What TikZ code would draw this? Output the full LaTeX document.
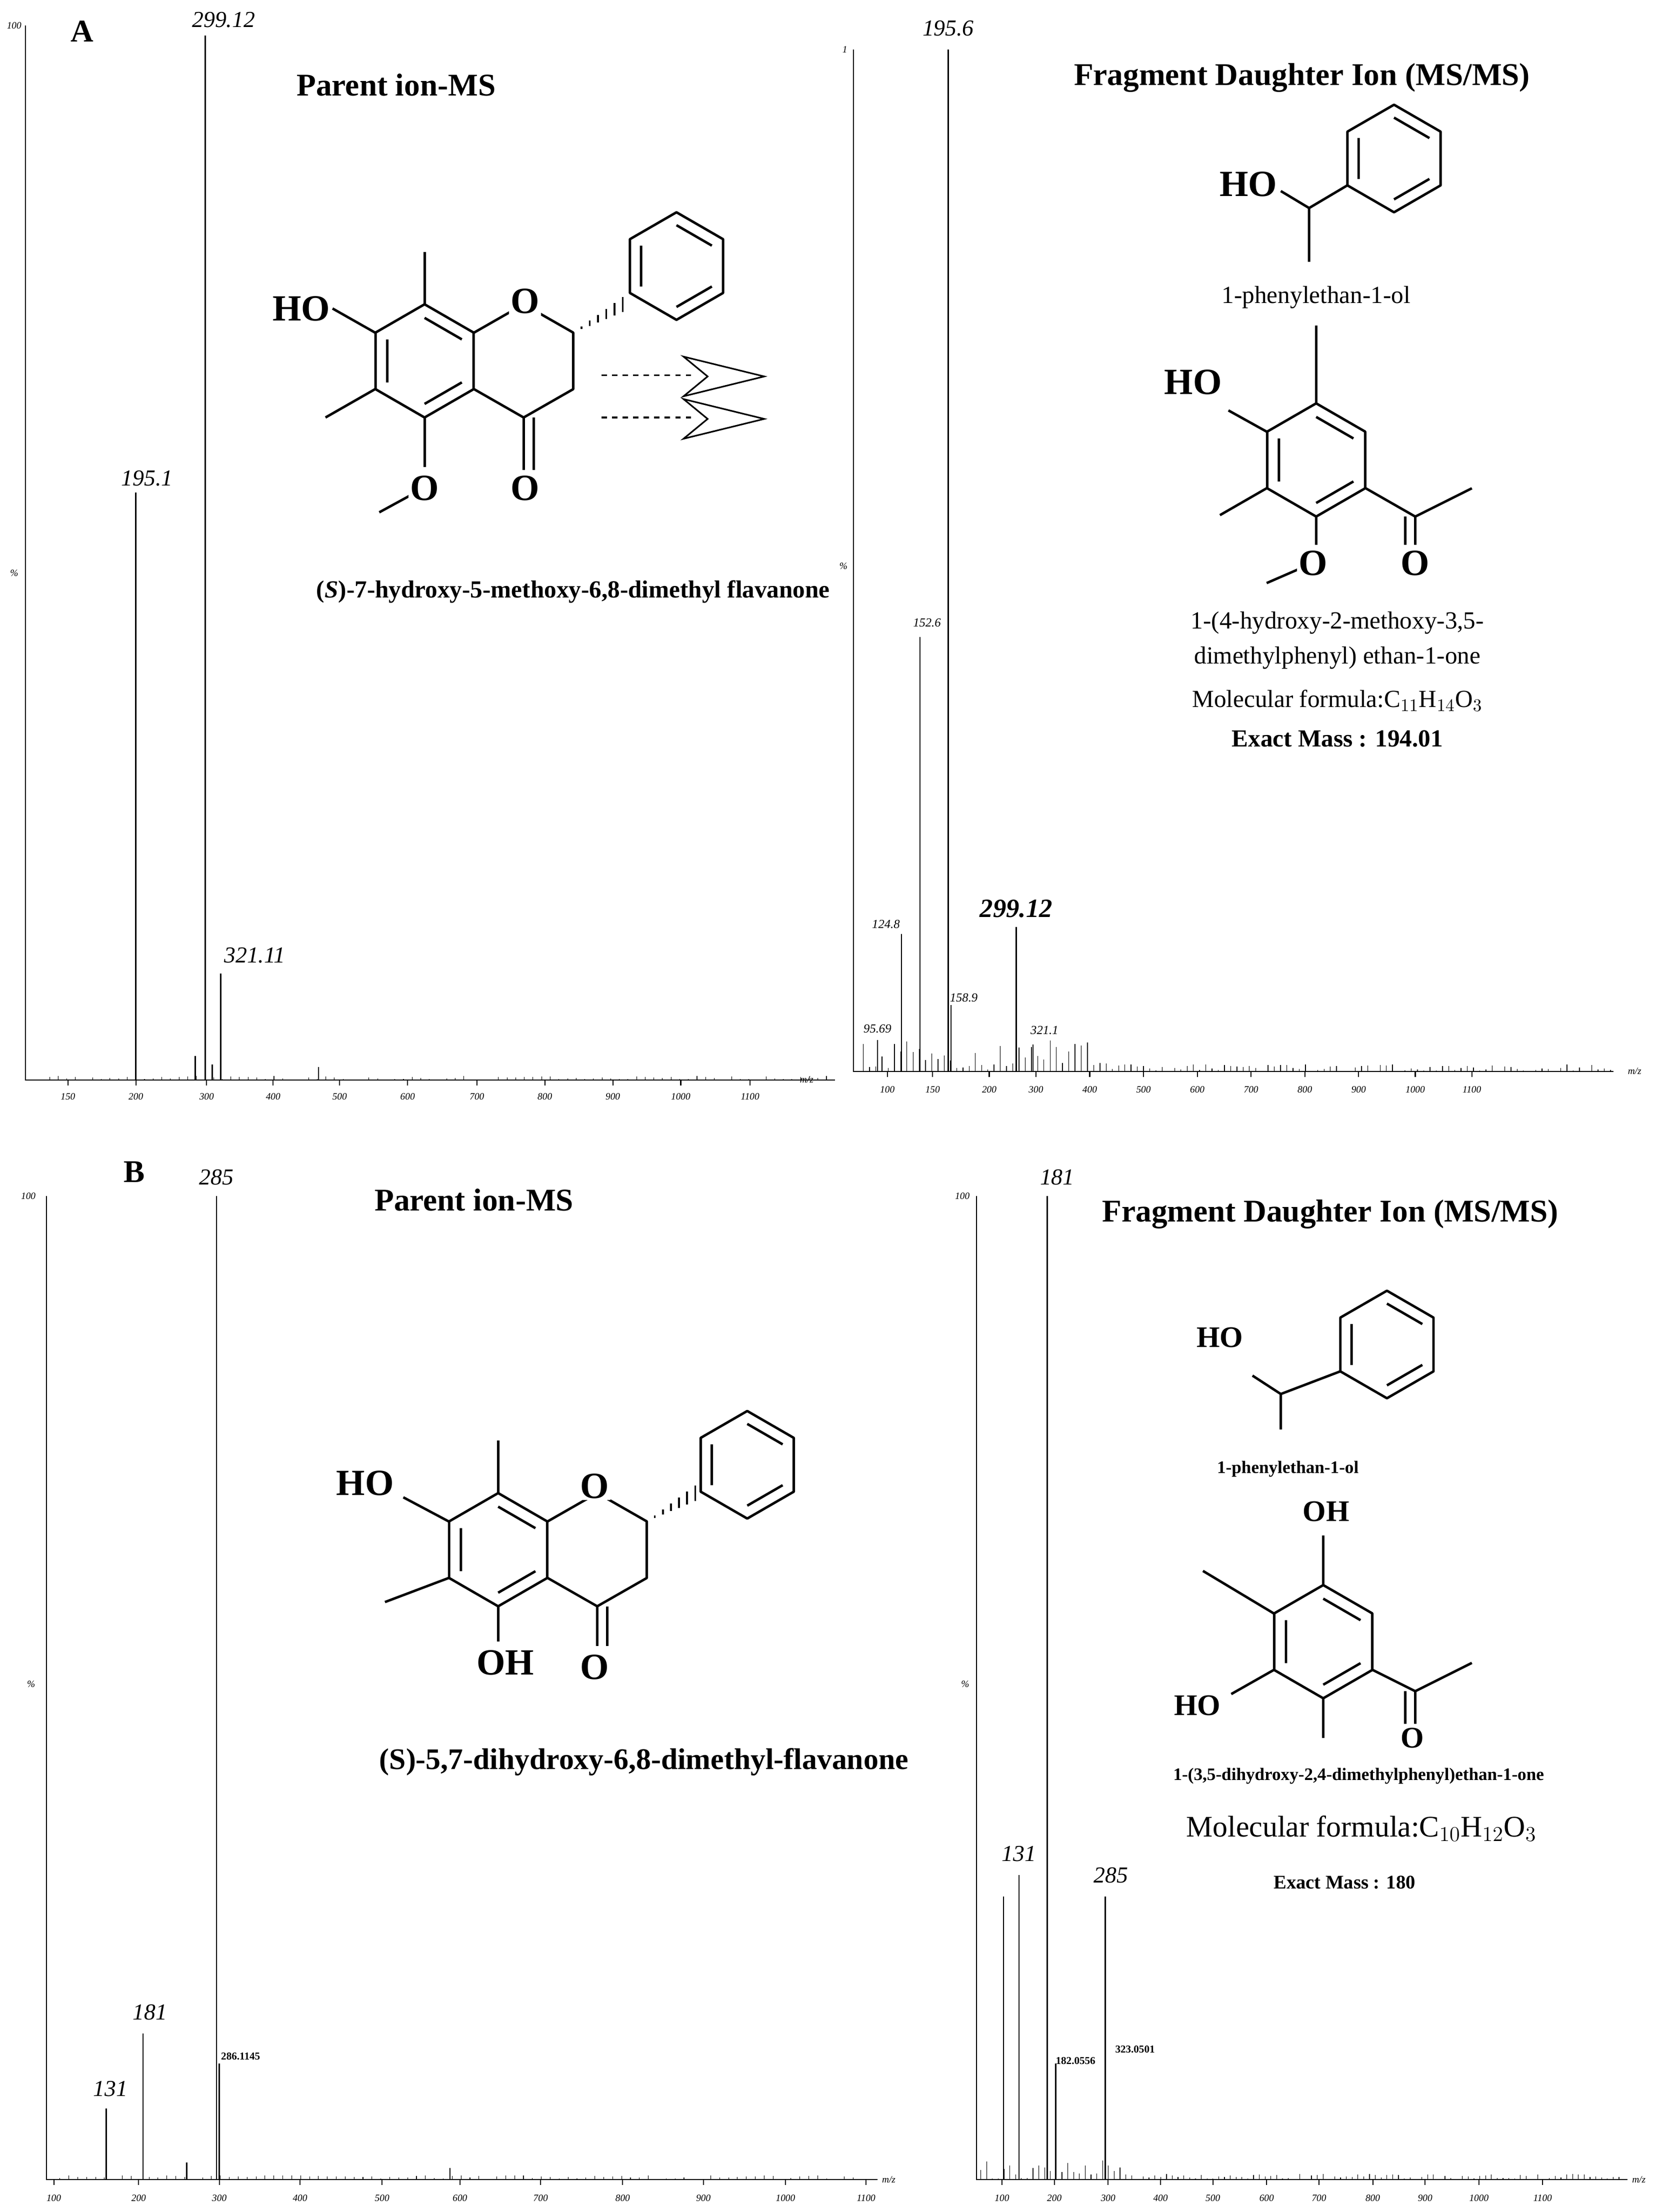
\documentclass[tikz,border=0pt]{standalone}
\usepackage{fontspec}
\setmainfont{Liberation Serif}
\usetikzlibrary{calc}
\newcommand{\aring}[3]{%
 \draw[bond,shift={(#1,#2)}] (90:#3)--(30:#3)--(-30:#3)--(-90:#3)--(210:#3)--(150:#3)--cycle;
 \draw[bond,shift={(#1,#2)}] (90:0.76*#3)--(30:0.76*#3) (-30:0.76*#3)--(-90:0.76*#3) (210:0.76*#3)--(150:0.76*#3);}
\begin{document}
\begin{tikzpicture}[x=0.0283cm,y=-0.0283cm,
 bond/.style={line width=1.4pt,line join=round},
 ax/.style={line width=0.6pt},
 pk/.style={line width=0.7pt},
 atom/.style={font=\fontsize{21}{21}\selectfont\bfseries,inner sep=1pt,fill=white},
 ttl/.style={font=\fontsize{18}{20}\selectfont\bfseries},
 plab/.style={font=\fontsize{13}{13}\selectfont\itshape},
 tick/.style={font=\fontsize{5.5}{6}\selectfont\itshape},
 txt/.style={font=\fontsize{14}{16}\selectfont}]
\useasboundingbox (0,0) rectangle (1170,1563);
\fill[white] (0,0) rectangle (1170,1563);
% ===== Panel A left spectrum
\draw[ax] (18,18)--(18,763)--(590,763);
\foreach \x/\l in {48/150,96/200,146/300,193/400,240/500,288/600,337/700,385/800,433/900,481/1000,530/1100}
 {\draw[ax] (\x,763)--(\x,767); \node[tick] at (\x,775) {\l};}
\node[tick] at (10,18) {100}; \node[tick] at (10,405) {\%};
\node[tick] at (570,763) {m/z};
\draw[pk] (96,763)--(96,348); \draw[pk] (145,763)--(145,25); \draw[pk] (156,763)--(156,688);
\draw[pk] (138,763)--(138,746); \draw[pk] (225,763)--(225,754); \draw[pk] (150,763)--(150,752);
\node[plab] (a1) at (104,338) {195.1};
\node[plab] (a2) at (158,14) {299.12};
\node[plab] (a3) at (180,675) {321.11};
\node[font=\fontsize{18}{18}\selectfont\bfseries] (A) at (58,22) {A};
\node[ttl] (pA) at (280,60) {Parent ion-MS};
% ===== Panel A right spectrum
\draw[ax] (603,35)--(603,757)--(1140,757);
\foreach \x/\l in {627/100,659/150,699/200,732/300,770/400,808/500,846/600,884/700,922/800,960/900,1000/1000,1040/1100}
 {\draw[ax] (\x,757)--(\x,761); \node[tick] at (\x,770) {\l};}
\node[tick] at (1155,757) {m/z}; \node[tick] at (597,35) {1};
\node[tick] at (596,400) {\%};
\pgfmathsetseed{7}
\foreach \i in {0,...,120}{\pgfmathsetmacro{\xx}{610+\i*4.4}\pgfmathsetmacro{\hh}{rnd*(\i<40?22:5)}
 \draw[line width=0.4pt] (\xx,757)--(\xx,757-\hh);}
\pgfmathsetseed{11}
\foreach \i in {0,...,90}{\pgfmathsetmacro{\xx}{35+\i*6.1}\pgfmathsetmacro{\hh}{rnd*3}
 \draw[line width=0.3pt] (\xx,763)--(\xx,763-\hh);}
\draw[pk] (670,757)--(670,35); \draw[pk] (650,757)--(650,450); \draw[pk] (637,757)--(637,660);
\draw[pk] (672,757)--(672,710); \draw[pk] (718,757)--(718,655); \draw[pk] (730,757)--(730,738);
\draw[pk] (620,757)--(620,735);
\node[plab] (b1) at (670,20) {195.6};
\node[tick,font=\fontsize{7}{7}\selectfont\itshape] at (655,440) {152.6};
\node[tick,font=\fontsize{7}{7}\selectfont\itshape] at (626,653) {124.8};
\node[tick,font=\fontsize{7}{7}\selectfont\itshape] at (681,705) {158.9};
\node[tick,font=\fontsize{7}{7}\selectfont\itshape] at (620,727) {95.69};
\node[tick,font=\fontsize{7}{7}\selectfont\itshape] at (738,728) {321.1};
\node[plab,font=\fontsize{15}{15}\selectfont\bfseries\itshape] (b2) at (718,642) {299.12};
\node[ttl] (fA) at (920,55) {Fragment Daughter Ion (MS/MS)};
% ===== Flavanone A
\aring{300}{255}{40}
\draw[bond] (335,235)--(370,215)--(405,235)--(405,275)--(370,295)--(335,275);
\draw[bond] (370,295)--(370,332) (377,295)--(377,332);
\draw[bond] (300,215)--(300,178);
\draw[bond] (265,235)--(235,218);
\draw[bond] (265,275)--(230,295);
\draw[bond] (300,295)--(300,330);
\draw[bond] (290,350)--(268,362);
\foreach \t in {0.15,0.3,0.45,0.6,0.75,0.9}{\draw[line width=1pt] ($(405,235)!\t!(444,213)+(0,-{\t*6})$)--($(405,235)!\t!(444,213)+(0,{\t*6})$);}
\aring{478}{188}{38}
\node[atom] (ho1) at (213,218) {HO};
\node[atom] (o1) at (371,213) {O};
\node[atom] (o2) at (371,345) {O};
\node[atom] (o3) at (300,345) {O};
\draw[dashed,line width=0.9pt] (425,265)--(490,265) (425,295)--(490,295);
\draw[line width=0.9pt] (483,252)--(540,266)--(483,280)--(500,266)--cycle;
\draw[line width=0.9pt] (483,282)--(540,296)--(483,310)--(500,296)--cycle;
\node[txt,font=\fontsize{14}{16}\selectfont\bfseries] (cA) at (405,418) {(\textit{S})-7-hydroxy-5-methoxy-6,8-dimethyl flavanone};
% ===== Fragments A
\aring{985}{112}{38}
\draw[bond] (952,131)--(925,147)--(925,185) (925,147)--(905,135);
\node[atom] (ho2) at (882,130) {HO};
\node[txt] (phA) at (930,210) {1-phenylethan-1-ol};
\aring{930}{325}{40}
\draw[bond] (930,285)--(930,230);
\draw[bond] (895,305)--(868,290);
\draw[bond] (895,345)--(862,364);
\draw[bond] (930,365)--(930,385) (918,402)--(895,412);
\draw[bond] (965,345)--(1000,365)--(1040,345) (1000,365)--(1000,385) (993,365)--(993,385);
\node[atom] (ho3) at (843,270) {HO};
\node[atom] (o4) at (928,398) {O};
\node[atom] (o5) at (1000,398) {O};
\node[txt] (fa1) at (945,440) {1-(4-hydroxy-2-methoxy-3,5-};
\node[txt] (fa2) at (945,465) {dimethylphenyl) ethan-1-one};
\node[txt] (fa3) at (945,495) {Molecular formula:C$_{11}$H$_{14}$O$_3$};
\node[txt,font=\fontsize{14}{16}\selectfont\bfseries] (fa4) at (945,522) {Exact Mass : 194.01};
% ===== Panel B left spectrum
\draw[ax] (33,845)--(33,1540)--(620,1540);
\foreach \x/\l in {38/100,98/200,155/300,212/400,270/500,325/600,382/700,440/800,497/900,555/1000,612/1100}
 {\draw[ax] (\x,1540)--(\x,1544); \node[tick] at (\x,1553) {\l};}
\node[tick] at (20,845) {100}; \node[tick] at (22,1190) {\%}; \node[tick] at (628,1540) {m/z};
\pgfmathsetseed{3}
\foreach \i in {0,...,90}{\pgfmathsetmacro{\xx}{36+\i*6.3}\pgfmathsetmacro{\hh}{rnd*3}
 \draw[line width=0.3pt] (\xx,1540)--(\xx,1540-\hh);}
\draw[pk] (153,1540)--(153,845); \draw[pk] (101,1540)--(101,1437); \draw[pk] (75,1540)--(75,1490);
\draw[pk] (155,1540)--(155,1458); \draw[pk] (132,1540)--(132,1528); \draw[pk] (318,1540)--(318,1532);
\node[plab] (c1) at (153,832) {285}; \node[plab] (c2) at (106,1422) {181};
\node[plab] (c3) at (78,1476) {131};
\node[tick,font=\fontsize{6}{6}\selectfont\bfseries] at (170,1453) {286.1145};
\node[font=\fontsize{18}{18}\selectfont\bfseries] (B) at (95,828) {B};
\node[ttl] (pB) at (335,848) {Parent ion-MS};
% ===== Panel B right spectrum
\draw[ax] (690,845)--(690,1540)--(1150,1540);
\foreach \x/\l in {708/100,745/200,783/300,820/400,857/500,895/600,932/700,970/800,1007/900,1045/1000,1090/1100}
 {\draw[ax] (\x,1540)--(\x,1544); \node[tick] at (\x,1553) {\l};}
\node[tick] at (680,845) {100}; \node[tick] at (682,1190) {\%}; \node[tick] at (1158,1540) {m/z};
\pgfmathsetseed{5}
\foreach \i in {0,...,110}{\pgfmathsetmacro{\xx}{693+\i*4.1}\pgfmathsetmacro{\hh}{rnd*(\i<25?14:4)}
 \draw[line width=0.35pt] (\xx,1540)--(\xx,1540-\hh);}
\draw[pk] (740,1540)--(740,845); \draw[pk] (720,1540)--(720,1325); \draw[pk] (781,1540)--(781,1340);
\draw[pk] (709,1540)--(709,1340); \draw[pk] (746,1540)--(746,1458);
\node[plab] (d1) at (747,832) {181}; \node[plab] (d2) at (720,1310) {131};
\node[plab] (d3) at (785,1325) {285};
\node[tick,font=\fontsize{6}{6}\selectfont\bfseries] at (760,1456) {182.0556};
\node[tick,font=\fontsize{6}{6}\selectfont\bfseries] at (802,1448) {323.0501};
\node[ttl] (fB) at (940,858) {Fragment Daughter Ion (MS/MS)};
% ===== Flavanone B
\aring{352}{1095}{40}
\draw[bond] (387,1075)--(422,1055)--(457,1075)--(457,1115)--(422,1135)--(387,1115);
\draw[bond] (422,1135)--(422,1163) (429,1135)--(429,1163);
\draw[bond] (352,1055)--(352,1018);
\draw[bond] (317,1075)--(285,1058);
\draw[bond] (317,1115)--(272,1132);
\draw[bond] (352,1135)--(352,1160);
\foreach \t in {0.15,0.3,0.45,0.6,0.75,0.9}{\draw[line width=1pt] ($(457,1075)!\t!(495,1053)+(0,-{\t*6})$)--($(457,1075)!\t!(495,1053)+(0,{\t*6})$);}
\aring{528}{1035}{38}
\node[atom] (ho4) at (258,1048) {HO};
\node[atom] (o6) at (420,1050) {O};
\node[atom] (oh5) at (357,1175) {OH};
\node[atom] (o7) at (420,1178) {O};
\node[font=\fontsize{17}{18}\selectfont\bfseries] (cB) at (455,1245) {(S)-5,7-dihydroxy-6,8-dimethyl-flavanone};
% ===== Fragments B
\aring{980}{950}{38}
\draw[bond] (947,969)--(905,985)--(905,1010) (905,985)--(885,972);
\node[atom,font=\fontsize{17}{17}\selectfont\bfseries] (ho5) at (862,945) {HO};
\node[font=\fontsize{10}{12}\selectfont\bfseries] (phB) at (910,1038) {1-phenylethan-1-ol};
\aring{935}{1160}{40}
\draw[bond] (935,1120)--(935,1085);
\draw[bond] (900,1140)--(850,1110);
\draw[bond] (900,1180)--(870,1197);
\draw[bond] (935,1200)--(935,1228);
\draw[bond] (970,1180)--(1000,1195)--(1040,1175) (1000,1195)--(1000,1218) (993,1195)--(993,1218);
\node[atom,font=\fontsize{17}{17}\selectfont\bfseries] (oh6) at (937,1068) {OH};
\node[atom,font=\fontsize{17}{17}\selectfont\bfseries] (ho6) at (846,1205) {HO};
\node[atom,font=\fontsize{17}{17}\selectfont\bfseries] (o8) at (998,1228) {O};
\node[font=\fontsize{10}{12}\selectfont\bfseries] (fb1) at (960,1255) {1-(3,5-dihydroxy-2,4-dimethylphenyl)ethan-1-one};
\node[font=\fontsize{17}{18}\selectfont] (fb2) at (962,1292) {Molecular formula:C$_{10}$H$_{12}$O$_3$};
\node[font=\fontsize{11}{12}\selectfont\bfseries] (fb3) at (950,1330) {Exact Mass : 180};
\end{tikzpicture}
\end{document}
